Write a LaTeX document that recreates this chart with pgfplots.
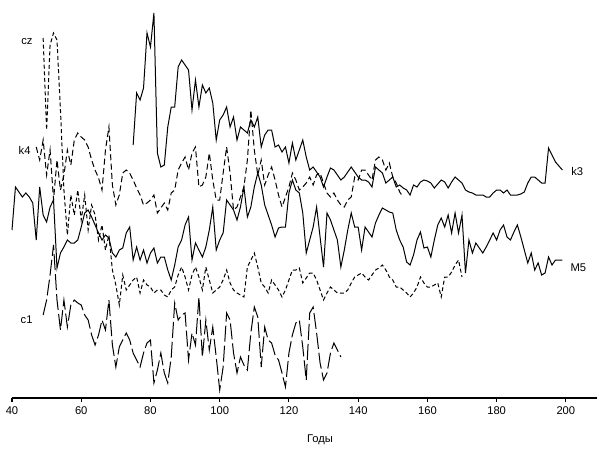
\documentclass[border=0pt]{standalone}
\usepackage{fontspec}
\setmainfont{Liberation Sans}
\usepackage{pgfplots}
\usepackage{pgfplotstable}
\pgfplotsset{compat=1.18}
\usetikzlibrary{calc}

% r = row of the curve in the figure (0 = top, 398 = x axis)
\pgfplotstableread{
x r
40 230
41 187
42 192
43 197
44 193
45 197
46 203
47 240
48 187
49 215
50 222
51 207
52 200
53 268
54 253
55 247
56 240
57 243
58 243
59 240
60 227
61 213
62 210
63 217
64 225
65 233
66 240
67 235
68 238
69 253
70 257
71 250
72 248
73 233
74 227
75 260
76 247
77 260
78 250
79 263
80 253
81 248
82 263
83 257
84 257
85 270
86 280
87 265
88 247
89 240
90 225
91 217
92 260
93 243
94 250
95 257
96 247
97 230
98 207
99 250
100 240
101 233
102 200
103 205
104 210
105 220
106 207
107 187
108 217
109 207
110 187
111 173
112 185
113 205
114 215
115 225
116 237
117 228
118 227
119 227
120 193
121 180
122 190
123 193
124 213
125 253
126 240
127 227
128 207
129 237
130 267
131 213
132 220
133 230
134 240
135 267
136 250
137 230
138 213
139 227
140 227
141 250
142 227
143 232
144 237
145 223
146 215
147 208
148 210
149 212
150 213
151 230
152 240
153 247
154 262
155 265
156 255
157 240
158 232
159 248
160 247
161 257
162 240
163 225
164 218
165 227
166 215
167 233
168 213
169 233
170 215
171 273
172 240
173 253
174 243
175 248
176 253
177 247
178 240
179 233
180 240
181 230
182 225
183 237
184 240
185 232
186 225
187 237
188 250
189 263
190 253
191 270
192 263
193 275
194 273
195 257
196 265
197 260
198 260
199 260
}\Mfive

\pgfplotstableread{
x r
75 145
76 93
77 100
78 88
79 33
80 47
81 13
82 153
83 167
84 165
85 127
86 107
87 107
88 67
89 60
90 65
91 70
92 110
93 80
94 107
95 85
96 93
97 88
98 103
99 140
100 120
101 115
102 107
103 127
104 117
105 140
106 127
107 130
108 133
109 120
110 127
111 117
112 147
113 135
114 130
115 130
116 147
117 145
118 152
119 147
120 163
121 143
122 160
123 150
124 140
125 157
126 170
127 167
128 172
129 177
130 187
131 177
132 168
133 170
134 175
135 180
136 177
137 172
138 167
139 172
140 177
141 180
142 180
143 182
144 187
145 167
146 170
147 173
148 183
149 180
150 177
151 187
152 185
153 188
154 190
155 195
156 185
157 187
158 182
159 180
160 181
161 183
162 188
163 184
164 180
165 182
166 188
167 182
168 177
169 180
170 183
171 190
172 192
173 193
174 195
175 195
176 195
177 197
178 197
179 193
180 190
181 190
182 193
183 190
184 195
185 195
186 195
187 194
188 192
189 183
190 177
191 177
192 180
193 183
194 183
195 148
196 155
197 162
198 166
199 170
}\kthree

\pgfplotstableread{
x r
47 147
48 160
49 140
50 175
51 150
52 200
53 160
54 190
55 175
56 150
57 165
58 140
59 133
60 137
61 140
62 147
63 160
64 170
65 178
66 190
67 150
68 127
69 185
70 205
71 195
72 173
73 170
74 173
75 180
76 188
77 195
78 205
79 203
80 200
81 195
82 213
83 208
84 203
85 210
86 193
87 190
88 170
89 163
90 157
91 170
92 153
93 147
94 187
95 185
96 177
97 153
98 180
99 200
100 200
101 173
102 147
103 173
104 210
105 207
106 197
107 187
108 160
109 110
110 150
111 175
112 160
113 185
114 175
115 167
116 180
117 195
118 207
119 197
120 187
121 173
122 180
123 190
124 187
125 183
126 177
127 185
128 175
129 173
130 183
131 193
132 197
133 193
134 200
135 205
136 207
137 200
138 197
139 177
140 180
141 170
142 170
143 175
144 180
145 160
146 157
147 160
148 170
149 163
150 177
151 183
152 192
153 197
}\kfour

\pgfplotstableread{
x r
49 38
50 130
51 45
52 33
53 40
54 110
55 190
56 235
57 195
58 215
59 190
60 220
61 195
62 230
63 205
64 215
65 240
66 225
67 250
68 235
69 270
70 285
71 305
72 275
73 290
74 285
75 280
76 277
77 293
78 280
79 285
80 287
81 293
82 290
83 290
84 295
85 297
86 290
87 287
88 275
89 267
90 277
91 290
92 275
93 267
94 277
95 290
96 267
97 280
98 293
99 290
100 287
101 280
102 270
103 283
104 290
105 293
106 295
107 297
108 267
109 260
110 253
111 267
112 283
113 287
114 293
115 280
116 285
117 290
118 297
119 290
120 280
121 270
122 270
123 268
124 283
125 278
126 273
127 273
128 280
129 290
130 300
131 293
132 287
133 290
134 293
135 293
136 293
137 290
138 283
139 277
140 275
141 273
142 277
143 280
144 275
145 270
146 268
147 265
148 270
149 277
150 280
151 287
152 287
153 290
154 293
155 297
156 293
157 287
158 277
159 283
160 287
161 287
162 285
163 283
164 297
165 277
166 277
167 272
168 265
169 260
170 277
}\cz

\pgfplotstableread{
x r
49 315
50 300
51 275
52 245
53 300
54 330
55 300
56 327
57 305
58 300
59 303
60 305
61 315
62 320
63 335
64 345
65 335
66 320
67 330
68 300
69 345
70 367
71 347
72 340
73 333
74 340
75 353
76 360
77 367
78 353
79 343
80 340
81 383
82 370
83 353
84 373
85 383
86 357
87 303
88 320
89 315
90 313
91 360
92 333
93 345
94 297
95 357
96 320
97 350
98 327
99 357
100 390
101 367
102 313
103 320
104 353
105 373
106 357
107 365
108 370
109 333
110 307
111 317
112 367
113 327
114 340
115 343
116 355
117 360
118 373
119 387
120 353
121 335
122 323
123 320
124 347
125 380
126 313
127 307
128 333
129 363
130 380
131 373
132 353
133 343
134 350
135 357
}\cone

\begin{document}
\begin{tikzpicture}
\begin{axis}[
    scale only axis,
    width=438.75pt, height=298.5pt,
    xmin=40, xmax=209, ymin=0, ymax=398,
    axis x line*=bottom, axis y line=none,
    axis line style={-, line width=0.8pt},
    xtick={40,60,...,200}, ytick=\empty,
    tick align=outside, major tick length=3pt,
    tick style={line width=0.8pt, black},
    tick label style={font=\fontsize{8.4}{10}\selectfont},
    /pgf/number format/assume math mode=true,
    clip=false,
    every axis plot/.append style={black, line width=0.75pt},
]
\addplot[solid] table[x=x, y expr=398-\thisrow{r}] {\Mfive};
\addplot[solid] table[x=x, y expr=398-\thisrow{r}] {\kthree};
\addplot[dash pattern=on 4.5pt off 2.5pt] table[x=x, y expr=398-\thisrow{r}] {\kfour};
\addplot[dash pattern=on 3pt off 2pt] table[x=x, y expr=398-\thisrow{r}] {\cz};
\addplot[dash pattern=on 12pt off 3pt] table[x=x, y expr=398-\thisrow{r}] {\cone};
\node[anchor=east, font=\fontsize{8.4}{10}\selectfont] at (axis cs:47.3,356) {cz};
\node[anchor=east, font=\fontsize{8.4}{10}\selectfont] at (axis cs:46.7,248) {k4};
\node[anchor=east, font=\fontsize{8.4}{10}\selectfont] at (axis cs:47.3,78) {c1};
\node[anchor=west, font=\fontsize{8.4}{10}\selectfont] at (axis cs:200.2,227) {k3};
\node[anchor=west, font=\fontsize{8.4}{10}\selectfont] at (axis cs:200.0,130) {M5};
\node[font=\fontsize{8.4}{10}\selectfont] at (axis cs:129,0) [yshift=-31.5pt] {Годы};
\coordinate (bl) at (rel axis cs:0,0);
\coordinate (tr) at (rel axis cs:1,1);
\end{axis}
\pgfresetboundingbox
\path ($(bl)+(-9pt,-42pt)$) rectangle ($(tr)+(6pt,0pt)$);
\end{tikzpicture}
\end{document}
